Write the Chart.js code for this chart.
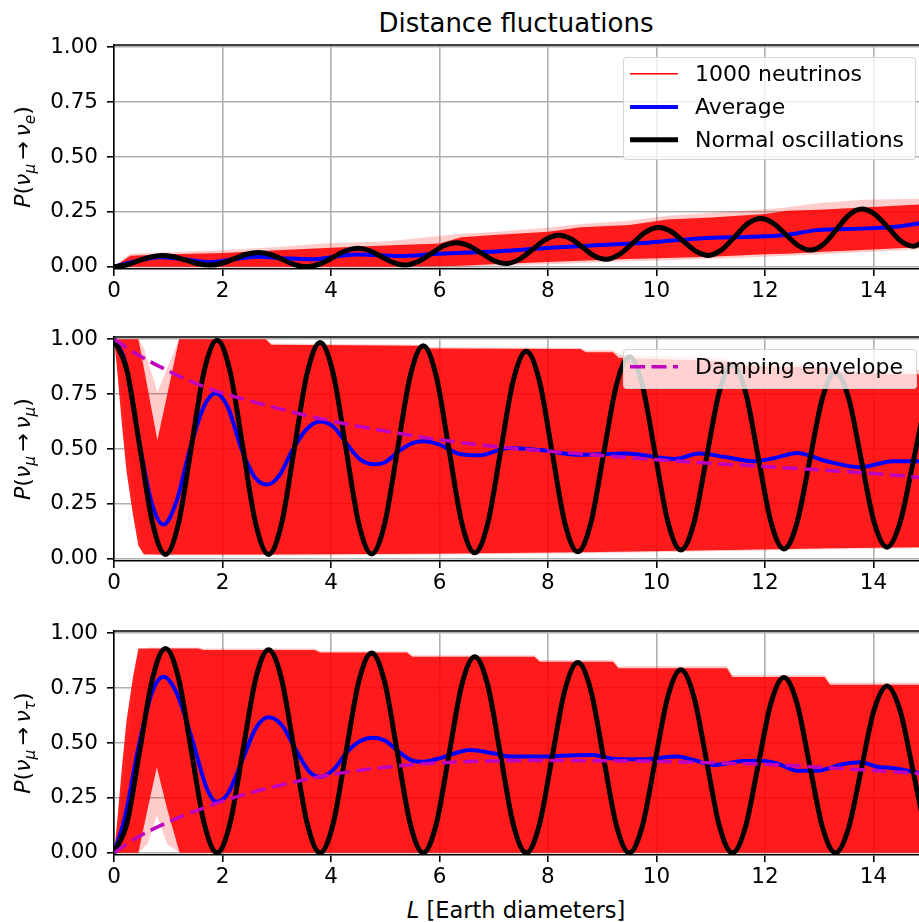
<!DOCTYPE html>
<html>
<head>
<meta charset="utf-8">
<title>Distance fluctuations</title>
<script src="https://cdn.jsdelivr.net/npm/chart.js@4.4.1/dist/chart.umd.min.js"></script>
<style>
  body { margin: 0; background: #fff; }
  #fig { position: relative; width: 919px; height: 922px; overflow: hidden; font-family: "DejaVu Sans", sans-serif; color: #000; }
  #fig canvas { position: absolute; left: 0; }
  .txt { position: absolute; white-space: nowrap; line-height: 24px; transform: translateX(-50%); }
  .ylab { position: absolute; font-size: 22px; line-height: 24px; white-space: nowrap; transform: translate(-50%, -50%) rotate(-90deg); }
  .ylab sub { font-size: 70%; vertical-align: -0.3em; line-height: 0; }
  .legend { position: absolute; background: rgba(255, 255, 255, 0.8); border: 1px solid rgba(204, 204, 204, 0.8); border-radius: 4px; box-sizing: border-box; }
  .legend svg { position: absolute; left: 0; top: 0; }
  .legend span { position: absolute; left: 71px; font-size: 22px; line-height: 24px; white-space: nowrap; }
</style>
</head>
<body>
<div id="fig">
  <div class="txt" style="left:516px; top:10.5px; font-size:26px;">Distance fluctuations</div>

  <canvas id="panelE" width="919" height="290" style="top:20px"></canvas>
  <canvas id="panelMu" width="919" height="290" style="top:312px"></canvas>
  <canvas id="panelTau" width="919" height="290" style="top:606px"></canvas>

  <div class="ylab" style="left:23px; top:157px;"><i>P</i>(<i>ν</i><sub><i>μ</i></sub>&#8201;→&#8201;<i>ν</i><sub><i>e</i></sub>)</div>
  <div class="ylab" style="left:23px; top:449px;"><i>P</i>(<i>ν</i><sub><i>μ</i></sub>&#8201;→&#8201;<i>ν</i><sub><i>μ</i></sub>)</div>
  <div class="ylab" style="left:23px; top:743px;"><i>P</i>(<i>ν</i><sub><i>μ</i></sub>&#8201;→&#8201;<i>ν</i><sub><i>τ</i></sub>)</div>

  <!-- legende du haut -->
  <div class="legend" style="left:623px; top:57px; width:293px; height:103px;">
    <svg width="293" height="103">
      <line x1="6" y1="15.7" x2="54" y2="15.7" stroke="#ff0000" stroke-width="1.5"/>
      <line x1="6" y1="49" x2="54" y2="49" stroke="#0000ff" stroke-width="4"/>
      <line x1="6" y1="81.7" x2="54" y2="81.7" stroke="#000000" stroke-width="5"/>
    </svg>
    <span style="top:4.1px">1000 neutrinos</span>
    <span style="top:36.7px">Average</span>
    <span style="top:69.7px">Normal oscillations</span>
  </div>

  <!-- legende du milieu -->
  <div class="legend" style="left:623px; top:349px; width:294px; height:40px;">
    <svg width="294" height="40">
      <line x1="6" y1="16.7" x2="54" y2="16.7" stroke="#bf00bf" stroke-width="3.5" stroke-dasharray="15 6.5"/>
    </svg>
    <span style="top:4.7px">Damping envelope</span>
  </div>

  <div class="txt" style="left:516px; top:898px; font-size:22.5px;"><i>L</i> [Earth diameters]</div>
</div>

<script>
// ---- axes ----
const X_TICKS = [0, 2, 4, 6, 8, 10, 12, 14];
const Y_TICKS = [0, 0.25, 0.5, 0.75, 1];

// ---- panneau 1 : nu_mu -> nu_e ----
const normE_L = [0, 0.22, 0.44, 0.66, 0.88, 1.1, 1.33, 1.55, 1.77, 1.99, 2.22, 2.44, 2.66, 2.88, 3.11, 3.33, 3.55, 3.79, 4.03, 4.26, 4.5, 4.72, 4.93, 5.15, 5.36, 5.6, 5.84, 6.07, 6.31, 6.54, 6.77, 7.0, 7.23, 7.47, 7.72, 7.96, 8.2, 8.42, 8.64, 8.85, 9.07, 9.31, 9.56, 9.8, 10.04, 10.27, 10.5, 10.73, 10.96, 11.2, 11.44, 11.68, 11.92, 12.15, 12.38, 12.61, 12.84, 13.08, 13.32, 13.55, 13.79, 14.03, 14.27, 14.5, 14.74, 14.98];
const normE_P = [0, 0.008, 0.026, 0.044, 0.052, 0.046, 0.03, 0.014, 0.008, 0.016, 0.037, 0.057, 0.065, 0.056, 0.033, 0.01, 0, 0.012, 0.042, 0.072, 0.084, 0.073, 0.046, 0.019, 0.008, 0.023, 0.059, 0.095, 0.11, 0.096, 0.063, 0.029, 0.015, 0.034, 0.08, 0.125, 0.144, 0.128, 0.089, 0.05, 0.034, 0.055, 0.107, 0.158, 0.179, 0.161, 0.116, 0.071, 0.052, 0.077, 0.136, 0.196, 0.22, 0.199, 0.148, 0.097, 0.076, 0.103, 0.17, 0.236, 0.263, 0.238, 0.179, 0.119, 0.094, 0.125];
const avgE_L = [0, 0.36, 0.85, 1.28, 1.77, 2.2, 2.63, 3.18, 3.67, 4.16, 4.5, 5.27, 5.9, 6.5, 7.12, 8.04, 8.96, 9.88, 10.8, 11.73, 12.35, 12.96, 13.88, 14.5, 14.9];
const avgE_P = [0, 0.023, 0.043, 0.034, 0.021, 0.034, 0.046, 0.038, 0.034, 0.049, 0.056, 0.049, 0.058, 0.065, 0.071, 0.087, 0.099, 0.111, 0.129, 0.137, 0.144, 0.167, 0.175, 0.185, 0.2];
const bandE_L = [0, 0.3, 1.0, 2.0, 3.0, 4.0, 5.0, 6.0, 6.4, 7.0, 8.0, 8.6, 9.5, 10.2, 11.0, 12.0, 12.4, 13.0, 13.8, 14.9];
const bandE_hi = [0, 0.05, 0.057, 0.063, 0.075, 0.087, 0.097, 0.106, 0.135, 0.145, 0.16, 0.18, 0.19, 0.215, 0.225, 0.24, 0.255, 0.26, 0.27, 0.285];
const bandE_lo = [0, 0, 0, 0, 0, 0, 0, 0.003, 0.005, 0.012, 0.022, 0.027, 0.035, 0.04, 0.046, 0.057, 0.06, 0.067, 0.077, 0.09];
const paleE_hi = [0, 0.06, 0.066, 0.075, 0.09, 0.108, 0.115, 0.14, 0.15, 0.158, 0.178, 0.195, 0.21, 0.232, 0.245, 0.262, 0.27, 0.29, 0.305, 0.31];
const paleE_lo = [0, 0, 0, 0, 0, 0, 0, 0, 0, 0.005, 0.012, 0.017, 0.025, 0.03, 0.036, 0.046, 0.05, 0.056, 0.066, 0.08];

// ---- panneaux 2 et 3 : meme grille en L pour les oscillations normales ----
const norm_L = [0, 0.24, 0.475, 0.71, 0.95, 1.19, 1.425, 1.66, 1.9, 2.14, 2.375, 2.61, 2.85, 3.09, 3.325, 3.56, 3.8, 4.04, 4.275, 4.51, 4.75, 4.99, 5.225, 5.46, 5.7, 5.94, 6.175, 6.41, 6.65, 6.89, 7.125, 7.36, 7.6, 7.84, 8.075, 8.31, 8.55, 8.79, 9.025, 9.26, 9.5, 9.74, 9.975, 10.21, 10.45, 10.69, 10.925, 11.16, 11.4, 11.64, 11.875, 12.11, 12.35, 12.59, 12.825, 13.06, 13.3, 13.54, 13.775, 14.01, 14.25, 14.49, 14.725, 14.96, 15.2];

// panneau 2 : nu_mu -> nu_mu
const normMu_P = [1.0, 0.857, 0.51, 0.163, 0.02, 0.162, 0.508, 0.853, 0.995, 0.853, 0.508, 0.162, 0.02, 0.161, 0.503, 0.844, 0.985, 0.844, 0.504, 0.163, 0.022, 0.16, 0.496, 0.832, 0.97, 0.832, 0.499, 0.165, 0.027, 0.161, 0.486, 0.811, 0.945, 0.812, 0.489, 0.165, 0.032, 0.162, 0.476, 0.79, 0.92, 0.791, 0.48, 0.169, 0.04, 0.163, 0.463, 0.762, 0.885, 0.762, 0.465, 0.168, 0.045, 0.163, 0.448, 0.732, 0.85, 0.734, 0.452, 0.169, 0.053, 0.164, 0.432, 0.699, 0.81];
const avgMu_L = [0, 0.2, 0.45, 0.7, 0.91, 1.15, 1.4, 1.65, 1.87, 2.1, 2.35, 2.6, 2.82, 3.05, 3.3, 3.55, 3.8, 4.05, 4.3, 4.55, 4.8, 5.0, 5.25, 5.5, 5.7, 6.0, 6.37, 6.73, 7.28, 7.9, 8.52, 9.43, 10.35, 10.78, 11.3, 11.8, 12.2, 12.59, 13.14, 13.75, 14.36, 14.9];
const avgMu_P = [1.0, 0.9, 0.55, 0.25, 0.156, 0.26, 0.5, 0.69, 0.754, 0.69, 0.5, 0.37, 0.338, 0.38, 0.5, 0.59, 0.625, 0.6, 0.52, 0.45, 0.43, 0.44, 0.49, 0.527, 0.535, 0.52, 0.477, 0.471, 0.505, 0.494, 0.474, 0.479, 0.455, 0.479, 0.462, 0.444, 0.46, 0.482, 0.444, 0.417, 0.444, 0.444];
const envMu_L = [0, 0.4, 0.9, 1.4, 1.9, 2.5, 3, 4, 5, 6, 7, 8, 9, 10, 11, 12, 13, 14, 14.9];
const envMu_P = [1.0, 0.935, 0.868, 0.81, 0.762, 0.72, 0.686, 0.628, 0.582, 0.542, 0.512, 0.49, 0.47, 0.451, 0.435, 0.42, 0.405, 0.388, 0.37];
const bandMu_L = [0, 0.05, 0.15, 0.23, 0.35, 0.45, 0.55, 0.8, 1.2, 2.8, 2.9, 5.7, 5.8, 8.6, 8.7, 9.2, 9.3, 11.3, 11.4, 13.2, 13.3, 14.9];
const bandMu_hi = [1, 1, 1, 1, 1, 1, 0.87, 0.54, 1.0, 1.0, 0.975, 0.97, 0.958, 0.955, 0.94, 0.94, 0.915, 0.9, 0.88, 0.87, 0.85, 0.84];
const bandMu_lo = [1, 0.88, 0.6, 0.4, 0.2, 0.06, 0.02, 0.02, 0.02, 0.02, 0.02, 0.023, 0.023, 0.03, 0.03, 0.032, 0.032, 0.04, 0.04, 0.048, 0.048, 0.053];
const paleMu_hi = [1, 1, 1, 1, 1, 1, 0.96, 0.76, 1.0, 1.0, 0.98, 0.975, 0.965, 0.96, 0.95, 0.95, 0.93, 0.915, 0.9, 0.89, 0.87, 0.86];
const paleMu_lo = [1, 0.94, 0.74, 0.54, 0.32, 0.13, 0.03, 0.015, 0.015, 0.015, 0.015, 0.018, 0.018, 0.025, 0.025, 0.027, 0.027, 0.035, 0.035, 0.043, 0.043, 0.048];

// panneau 3 : nu_mu -> nu_tau
const normTau_P = [0, 0.136, 0.465, 0.794, 0.93, 0.794, 0.465, 0.136, 0, 0.135, 0.463, 0.79, 0.925, 0.79, 0.463, 0.135, 0, 0.133, 0.455, 0.777, 0.91, 0.777, 0.455, 0.133, 0, 0.13, 0.447, 0.763, 0.893, 0.763, 0.447, 0.13, 0, 0.126, 0.433, 0.74, 0.866, 0.74, 0.433, 0.126, 0, 0.122, 0.417, 0.711, 0.833, 0.711, 0.417, 0.122, 0, 0.117, 0.399, 0.681, 0.798, 0.681, 0.399, 0.117, 0, 0.111, 0.38, 0.649, 0.76, 0.649, 0.38, 0.111, 0];
const avgTau_L = [0, 0.2, 0.45, 0.7, 0.91, 1.15, 1.46, 1.7, 1.89, 2.1, 2.37, 2.62, 2.85, 3.1, 3.35, 3.6, 3.8, 4.05, 4.3, 4.55, 4.78, 5.0, 5.25, 5.5, 5.7, 6.0, 6.38, 6.56, 6.99, 7.3, 7.92, 8.22, 8.84, 9.15, 9.76, 10.37, 10.68, 11.05, 11.6, 11.91, 12.22, 12.59, 12.96, 13.45, 13.76, 14.07, 14.37, 14.9];
const avgTau_P = [0, 0.16, 0.48, 0.73, 0.802, 0.73, 0.5, 0.3, 0.232, 0.27, 0.425, 0.57, 0.617, 0.58, 0.47, 0.37, 0.346, 0.38, 0.46, 0.51, 0.524, 0.51, 0.46, 0.42, 0.415, 0.43, 0.46, 0.468, 0.453, 0.438, 0.438, 0.442, 0.445, 0.43, 0.426, 0.438, 0.423, 0.4, 0.418, 0.419, 0.407, 0.374, 0.374, 0.404, 0.412, 0.392, 0.385, 0.36];
const envTau_L = [0, 0.4, 1, 1.5, 2, 2.5, 3, 4, 5, 6, 7, 8, 9, 10, 11, 12, 13, 14, 14.9];
const envTau_P = [0, 0.066, 0.14, 0.19, 0.235, 0.272, 0.304, 0.356, 0.39, 0.41, 0.418, 0.42, 0.419, 0.416, 0.41, 0.403, 0.39, 0.375, 0.36];
const bandTau_L = [0, 0.05, 0.15, 0.23, 0.35, 0.45, 0.62, 0.79, 0.98, 1.21, 1.55, 1.65, 3.7, 3.8, 5.4, 5.5, 7.75, 7.85, 9.2, 9.3, 11.3, 11.4, 13.1, 13.2, 14.9];
const bandTau_hi = [0, 0.12, 0.4, 0.6, 0.8, 0.93, 0.93, 0.93, 0.93, 0.93, 0.93, 0.924, 0.924, 0.912, 0.912, 0.893, 0.893, 0.87, 0.87, 0.84, 0.84, 0.8, 0.8, 0.765, 0.765];
const bandTau_lo = [0, 0, 0, 0, 0, 0, 0.2, 0.39, 0.2, 0, 0, 0, 0, 0, 0, 0, 0, 0, 0, 0, 0, 0, 0, 0, 0];
const paleTau_hi = [0, 0.06, 0.26, 0.46, 0.68, 0.87, 0.935, 0.935, 0.935, 0.935, 0.935, 0.93, 0.93, 0.918, 0.918, 0.9, 0.9, 0.878, 0.878, 0.85, 0.85, 0.81, 0.81, 0.775, 0.775];
const paleTau_lo = [0, 0, 0, 0, 0, 0, 0.04, 0.17, 0.04, 0, 0, 0, 0, 0, 0, 0, 0, 0, 0, 0, 0, 0, 0, 0, 0];

const FONT = '"DejaVu Sans", sans-serif';
const RED_DENSE = 'rgba(255, 0, 0, 0.87)';
const RED_PALE = 'rgba(255, 0, 0, 0.2)';

function pts(xs, ys) {
    return xs.map((x, i) => ({ x: x, y: ys[i] }));
}

// courbe simple (moyenne, oscillations, enveloppe)
function curve(xs, ys, color, width, order, dash) {
    return {
        data: pts(xs, ys), borderColor: color, borderWidth: width, borderDash: dash || [],
        pointRadius: 0, fill: false, cubicInterpolationMode: 'monotone', order: order, clip: 0
    };
}

// bande rouge : bord bas invisible puis bord haut rempli vers le precedent
function band(xs, lo, hi, color, order) {
    return [
        { data: pts(xs, lo), borderWidth: 0, pointRadius: 0, fill: false, tension: 0, order: order, clip: 0 },
        { data: pts(xs, hi), borderWidth: 0, pointRadius: 0, fill: '-1', backgroundColor: color, tension: 0, order: order, clip: 0 }
    ];
}

// bordure du haut (les axes Chart.js ne la tracent pas)
const topSpine = {
    id: 'topSpine',
    afterDraw(chart) {
        const a = chart.chartArea, ctx = chart.ctx;
        ctx.save();
        ctx.strokeStyle = '#000';
        ctx.lineWidth = 1.6;
        ctx.beginPath();
        ctx.moveTo(a.left - 0.8, a.top);
        ctx.lineTo(a.right, a.top);
        ctx.stroke();
        ctx.restore();
    }
};

function makePanel(canvasId, datasets) {
    const ctx = document.getElementById(canvasId).getContext('2d');
    return new Chart(ctx, {
        type: 'line',
        data: { datasets: datasets },
        plugins: [topSpine],
        options: {
            responsive: false, animation: false, devicePixelRatio: 1,
            layout: { padding: { top: 25, left: 0, right: 0, bottom: 0 } },
            plugins: { legend: { display: false }, tooltip: { enabled: false } },
            scales: {
                x: {
                    type: 'linear', min: 0, max: 14.84,
                    afterBuildTicks: s => { s.ticks = X_TICKS.map(v => ({ value: v })); },
                    afterFit: s => { s.height = 41; },
                    grid: { color: '#b0b0b0', lineWidth: 1.6, tickLength: 7, tickColor: '#000', tickWidth: 1.6 },
                    border: { display: true, color: '#000', width: 1.6, z: 1 },
                    ticks: { color: '#000', font: { family: FONT, size: 21.5 }, padding: 3, maxRotation: 0, autoSkip: false, callback: v => String(v) }
                },
                y: {
                    type: 'linear', min: -0.01, max: 1.01,
                    afterBuildTicks: s => { s.ticks = Y_TICKS.map(v => ({ value: v })); },
                    afterFit: s => { s.width = 114; },
                    grid: { color: '#b0b0b0', lineWidth: 1.6, tickLength: 7, tickColor: '#000', tickWidth: 1.6 },
                    border: { display: true, color: '#000', width: 1.6, z: 1 },
                    ticks: { color: '#000', font: { family: FONT, size: 21.5 }, padding: 9, callback: v => Number(v).toFixed(2) }
                }
            }
        }
    });
}

makePanel('panelE', [
    ...band(bandE_L, paleE_lo, paleE_hi, RED_PALE, 11),
    ...band(bandE_L, bandE_lo, bandE_hi, RED_DENSE, 10),
    curve(avgE_L, avgE_P, '#0000ff', 4, 3),
    curve(normE_L, normE_P, '#000000', 5, 2)
]);

makePanel('panelMu', [
    ...band(bandMu_L, paleMu_lo, paleMu_hi, RED_PALE, 11),
    ...band(bandMu_L, bandMu_lo, bandMu_hi, RED_DENSE, 10),
    curve(avgMu_L, avgMu_P, '#0000ff', 4, 3),
    curve(norm_L, normMu_P, '#000000', 5, 2),
    curve(envMu_L, envMu_P, '#bf00bf', 3.5, 1, [15, 6.5])
]);

makePanel('panelTau', [
    ...band(bandTau_L, paleTau_lo, paleTau_hi, RED_PALE, 11),
    ...band(bandTau_L, bandTau_lo, bandTau_hi, RED_DENSE, 10),
    curve(avgTau_L, avgTau_P, '#0000ff', 4, 3),
    curve(norm_L, normTau_P, '#000000', 5, 2),
    curve(envTau_L, envTau_P, '#bf00bf', 3.5, 1, [15, 6.5])
]);
</script>
</body>
</html>
